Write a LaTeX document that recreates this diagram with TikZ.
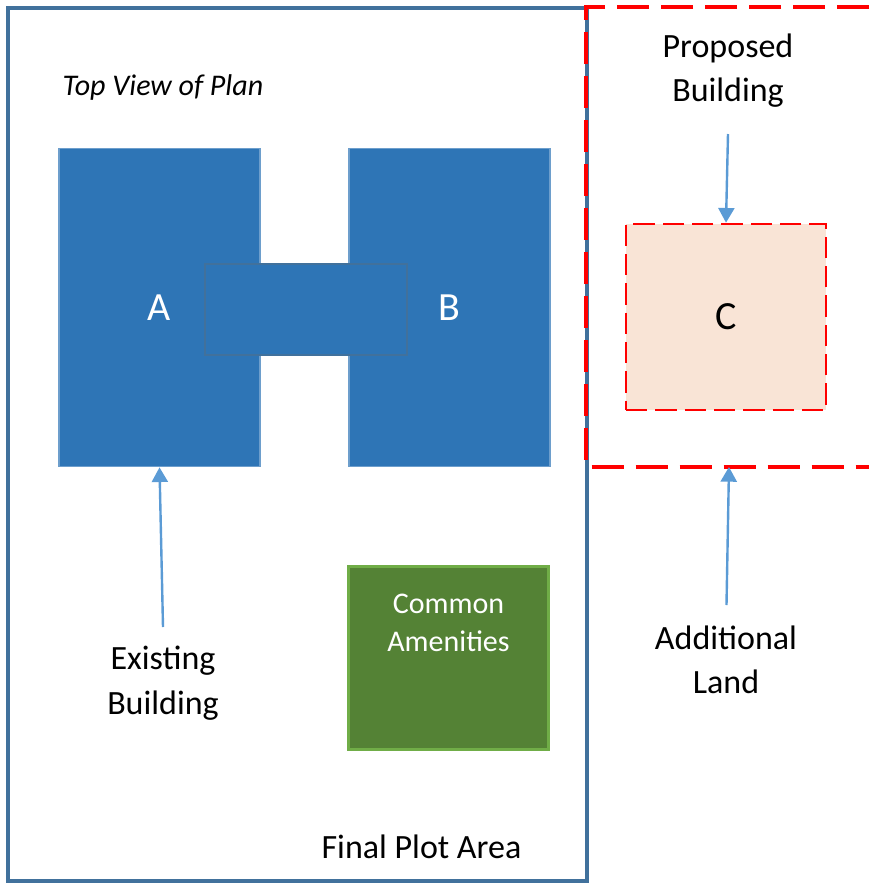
\documentclass[tikz,border=0pt]{standalone}
\usepackage{fontspec}
\setmainfont{Carlito}
\usepackage{xcolor}
\usetikzlibrary{positioning,arrows.meta}
\definecolor{plotblue}{HTML}{41719C}
\definecolor{bldgblue}{HTML}{2E75B6}
\definecolor{arrowblue}{HTML}{5B9BD5}
\definecolor{amengreen}{HTML}{548235}
\definecolor{amenedge}{HTML}{70AD47}
\definecolor{propfill}{HTML}{F9E4D6}

\begin{document}
\begin{tikzpicture}[
    x=0.75pt, y=-0.75pt,
    bigtext/.style={align=center, font=\fontsize{25.5}{33.4}\selectfont},
    bldg/.style={rectangle, draw=bldgblue!70!white, line width=0.8pt, fill=bldgblue, text=white, inner sep=0pt, font=\fontsize{30}{36}\selectfont},
    pointer/.style={draw=arrowblue, line width=1.8pt, -{Triangle[length=11pt, width=12pt]}}
]
\useasboundingbox (0,0) rectangle (869,883);

% Plot and added land
\node[rectangle, draw=plotblue, line width=3.4pt, minimum width=434pt, minimum height=655pt, inner sep=0pt] (plot) at (297.5,444.5) {};
\draw[red, line width=3pt, dash pattern=on 24pt off 9pt] (869,7) -- (586,7) -- (586,466.5) -- (869,466.5);
\coordinate (landedge) at (729,467);

% Buildings
\node[bldg, minimum width=150.75pt, minimum height=239pt] (blocka) at (159.5,307.5) {A};
\node[bldg, minimum width=150.75pt, minimum height=239pt] (blockb) at (449.5,307.5) {B};
\node[rectangle, draw=plotblue, line width=1.2pt, fill=bldgblue, minimum width=151.5pt, minimum height=68pt, inner sep=0pt] (link) at (306,309.5) {};
\node[rectangle, draw=red, line width=2pt, dash pattern=on 16pt off 6pt, fill=propfill, minimum width=150pt, minimum height=139.5pt, inner sep=0pt, font=\fontsize{30}{36}\selectfont] (blockc) at (726,317) {C};
\node[rectangle, draw=amenedge, line width=2pt, fill=amengreen, text=white, align=center, minimum width=150pt, minimum height=137.5pt, inner sep=0pt, font=\fontsize{22.5}{28.5}\selectfont] (amen) at (448.5,658) {Common\\Amenities\\[1.05em]};

% Labels
\node[font=\itshape\fontsize{22.5}{27}\selectfont] (title) at (163,87) {Top View of Plan};
\node[bigtext] (proposed) at (728,70.5) {Proposed\\Building};
\node[bigtext] (existing) at (163,683) {Existing\\Building};
\node[bigtext] (additional) at (726,660) {Additional\\Land};
\node[bigtext] (final) at (421.5,847) {Final Plot Area};

% Arrows
\coordinate (propstart) at (728,134);
\coordinate (existstart) at (163,627);
\coordinate (addstart) at (726.5,605);
\draw[pointer] (propstart) -- (blockc.north);
\draw[pointer] (existstart) -- (blocka.south);
\draw[pointer] (addstart) -- (landedge);

\end{tikzpicture}
\end{document}
